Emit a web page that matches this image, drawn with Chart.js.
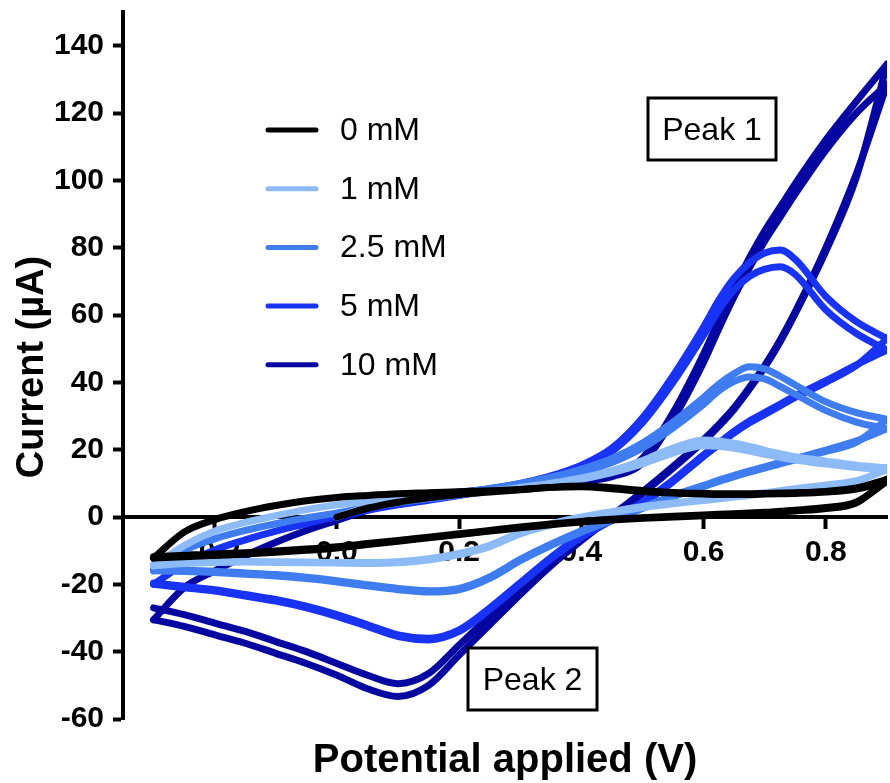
<!DOCTYPE html>
<html>
<head>
<meta charset="utf-8">
<script src="https://cdn.jsdelivr.net/npm/chart.js@4.4.0/dist/chart.umd.min.js"></script>
<style>
  html, body { margin: 0; padding: 0; background: #fff; }
  canvas { display: block; }
</style>
</head>
<body>
<canvas id="cv" width="890" height="783"></canvas>
<script>
// potential grid (V), finer around the oxidation peaks
const POTENTIAL = [-0.30, -0.25, -0.20, -0.15, -0.10, -0.05, 0.00, 0.05, 0.10, 0.15, 0.20, 0.25, 0.30,
  0.35, 0.40, 0.45, 0.50, 0.55, 0.60, 0.625, 0.65, 0.675, 0.70, 0.725, 0.75, 0.80, 0.85, 0.90];

const X_TICKS = [-0.2, 0.0, 0.2, 0.4, 0.6, 0.8];
const Y_TICKS = [-60, -40, -20, 0, 20, 40, 60, 80, 100, 120, 140];

const SERIES_NAMES = ['0 mM', '1 mM', '2.5 mM', '5 mM', '10 mM'];
const SERIES_COLORS = ['#000000', '#8dbbf7', '#3f7cf0', '#1833f4', '#0507a0'];

// current (uA). fwdA starts at 0.0 V (first sweep), the others span the whole grid
// 0 mM
const fwdA_0 = [0.0, 2.6, 4.4, 5.7, 6.7, 7.4, 8.1, 8.8, 9.2, 8.7, 7.9, 7.3, 7.0, 6.9, 6.9, 6.9, 7.0, 7.1, 7.2, 7.6, 8.6, 11.2];
const revA_0 = [-12.2, -11.8, -11.4, -11.0, -10.5, -9.9, -9.2, -8.2, -7.2, -6.2, -5.2, -4.2, -3.2, -2.3, -1.5, -0.9, -0.4, 0.0, 0.4, 0.6, 0.8, 1.0, 1.2, 1.5, 1.8, 2.5, 4.2, 11.2];
const fwdB_0 = [-12.2, -4.5, -0.8, 1.6, 3.4, 4.8, 5.8, 6.4, 6.9, 7.2, 7.5, 7.8, 8.2, 8.8, 9.0, 8.4, 7.6, 7.1, 6.8, 6.7, 6.7, 6.7, 6.8, 6.9, 7.0, 7.4, 8.3, 10.6];
const revB_0 = [-11.8, -11.4, -11.0, -10.6, -10.1, -9.5, -8.8, -7.9, -7.0, -6.0, -5.0, -4.0, -3.0, -2.1, -1.3, -0.7, -0.2, 0.2, 0.6, 0.8, 1.0, 1.2, 1.4, 1.7, 2.0, 2.8, 4.5, 10.6];
// 1 mM
const fwdA_1 = [0.0, 3.0, 4.6, 5.8, 6.8, 7.7, 8.8, 10.0, 11.6, 13.8, 16.8, 20.5, 22.9, 22.6, 21.9, 21.0, 19.8, 18.8, 17.9, 16.6, 15.4, 14.6];
const revA_1 = [-14.5, -13.8, -13.5, -13.4, -13.5, -13.6, -13.7, -13.8, -13.6, -12.8, -11.2, -8.8, -5.0, -2.4, -0.4, 1.2, 2.8, 3.9, 4.9, 5.4, 5.9, 6.4, 7.0, 7.6, 8.2, 9.3, 10.5, 14.6];
const fwdB_1 = [-14.5, -8.5, -4.2, -1.6, 0.4, 2.2, 3.6, 4.6, 5.4, 6.1, 6.8, 7.5, 8.5, 9.7, 11.2, 13.2, 15.8, 19.0, 21.2, 21.0, 20.4, 19.6, 18.6, 17.7, 16.9, 15.7, 14.7, 14.0];
const revB_1 = [-14.0, -13.5, -13.3, -13.2, -13.3, -13.4, -13.5, -13.5, -13.3, -12.4, -10.8, -8.4, -4.6, -2.0, 0.0, 1.6, 3.1, 4.2, 5.2, 5.7, 6.2, 6.7, 7.2, 7.8, 8.4, 9.5, 10.8, 14.0];
// 2.5 mM
const fwdA_2p5 = [0.0, 3.6, 5.2, 6.3, 7.3, 8.5, 10.0, 11.8, 14.2, 17.4, 22.0, 28.2, 35.5, 39.5, 42.6, 44.6, 44.0, 41.8, 39.2, 34.2, 31.0, 29.0];
const revA_2p5 = [-16.0, -16.2, -16.5, -17.0, -17.5, -18.3, -19.3, -20.5, -21.6, -22.3, -21.6, -18.2, -13.0, -8.5, -4.5, -1.0, 2.5, 6.0, 9.0, 10.6, 12.0, 13.3, 14.5, 15.8, 17.0, 19.5, 22.2, 29.0];
const fwdB_2p5 = [-16.0, -10.0, -6.5, -4.0, -2.0, -0.3, 1.2, 2.8, 4.2, 5.4, 6.5, 7.8, 9.2, 11.0, 13.2, 16.2, 20.5, 26.5, 33.5, 37.5, 40.3, 41.6, 41.0, 38.8, 36.4, 31.6, 28.2, 26.2];
const revB_2p5 = [-15.6, -15.8, -16.1, -16.6, -17.1, -17.9, -18.9, -20.1, -21.2, -21.9, -21.2, -17.8, -12.6, -8.1, -4.1, -0.6, 2.9, 6.4, 9.4, 11.0, 12.4, 13.7, 14.9, 16.2, 17.4, 19.9, 22.6, 26.2];
// 5 mM
const fwdA_5 = [0.0, 3.0, 4.6, 5.8, 7.0, 8.4, 10.0, 12.2, 15.4, 20.5, 29.5, 42.0, 56.5, 64.5, 71.0, 75.5, 78.4, 79.3, 76.5, 65.5, 58.0, 53.0];
const revA_5 = [-20.0, -21.0, -22.0, -23.5, -25.0, -27.0, -29.5, -32.5, -35.5, -36.5, -34.0, -27.5, -20.0, -12.5, -6.0, -1.0, 4.0, 10.5, 18.0, 21.5, 25.0, 28.0, 30.5, 33.0, 35.5, 40.0, 45.0, 53.0];
const fwdB_5 = [-20.0, -14.0, -9.8, -6.8, -4.2, -2.0, 0.2, 2.0, 3.6, 5.0, 6.4, 7.8, 9.4, 11.6, 14.8, 19.5, 28.0, 40.0, 54.0, 61.5, 67.5, 71.5, 73.6, 74.3, 72.0, 61.5, 54.5, 49.6];
const revB_5 = [-19.6, -20.6, -21.6, -23.0, -24.5, -26.5, -29.0, -32.0, -35.0, -36.0, -33.5, -27.0, -19.5, -12.0, -5.5, -0.5, 4.5, 11.0, 18.5, 22.0, 25.5, 28.5, 31.0, 33.5, 36.0, 40.5, 45.2, 49.6];
// 10 mM
const fwdA_10 = [0.0, 2.5, 4.3, 5.7, 6.9, 7.8, 8.8, 9.8, 10.8, 12.5, 17.5, 31.0, 48.5, 58.5, 68.0, 77.0, 85.0, 92.0, 99.0, 112.0, 123.5, 134.5];
const revA_10 = [-30.5, -32.5, -35.0, -37.5, -40.5, -43.5, -47.0, -51.0, -53.3, -50.0, -41.0, -32.0, -23.0, -14.5, -7.0, 0.0, 7.0, 14.5, 22.5, 27.0, 32.0, 38.0, 44.5, 52.0, 60.5, 79.0, 101.0, 134.5];
const fwdB_10 = [-30.5, -21.0, -16.0, -11.5, -7.5, -4.0, -1.0, 2.0, 4.5, 6.3, 7.4, 8.2, 9.0, 9.8, 10.6, 12.0, 16.0, 29.0, 46.0, 56.0, 65.5, 74.0, 82.0, 89.0, 96.0, 109.0, 120.0, 128.5];
const revB_10 = [-27.0, -29.0, -31.5, -34.0, -37.0, -40.0, -43.5, -47.0, -49.5, -46.5, -38.0, -29.5, -21.0, -13.0, -6.0, 0.5, 7.5, 15.0, 23.0, 27.5, 32.5, 38.5, 45.0, 52.5, 61.0, 80.0, 102.0, 128.5];

const SCANS = [
  [fwdA_0, revA_0, fwdB_0, revB_0],
  [fwdA_1, revA_1, fwdB_1, revB_1],
  [fwdA_2p5, revA_2p5, fwdB_2p5, revB_2p5],
  [fwdA_5, revA_5, fwdB_5, revB_5],
  [fwdA_10, revA_10, fwdB_10, revB_10]
];

const FONT = '"Liberation Sans", Arial, Helvetica, sans-serif';

function toPoints(values) {
    // short arrays start later on the potential grid
    const offset = POTENTIAL.length - values.length;
    return values.map((v, i) => ({ x: POTENTIAL[offset + i], y: v }));
}

// first dataset is drawn on top, so black ends up above the blues
const datasets = [];
SCANS.forEach((scans, s) => {
    scans.forEach((values) => {
        datasets.push({
            label: SERIES_NAMES[s],
            data: toPoints(values),
            borderColor: SERIES_COLORS[s],
            borderWidth: 7,
            borderCapStyle: 'round',
            borderJoinStyle: 'round',
            pointRadius: 0,
            fill: false,
            cubicInterpolationMode: 'monotone'
        });
    });
});

function drawBoxLabel(ctx, text, x, y, w, h, size) {
    ctx.fillStyle = '#fff';
    ctx.fillRect(x, y, w, h);
    ctx.strokeStyle = '#000';
    ctx.lineWidth = 3;
    ctx.strokeRect(x, y, w, h);
    ctx.fillStyle = '#000';
    ctx.font = size + 'px ' + FONT;
    ctx.textAlign = 'center';
    ctx.textBaseline = 'middle';
    ctx.fillText(text, x + w / 2, y + h / 2 + 2);
}

function drawTitle(ctx, text, x, y, angle, size) {
    ctx.save();
    ctx.translate(x, y);
    ctx.rotate(angle);
    ctx.font = 'bold ' + size + 'px ' + FONT;
    ctx.fillStyle = '#000';
    ctx.textAlign = 'center';
    ctx.textBaseline = 'alphabetic';
    ctx.fillText(text, 0, 0);
    ctx.restore();
}

const decorations = {
    id: 'decorations',
    afterDraw(chart) {
        const ctx = chart.ctx;
        ctx.save();

        // legend
        SERIES_NAMES.forEach((name, i) => {
            const y = 130 + i * 58.7;
            ctx.strokeStyle = SERIES_COLORS[i];
            ctx.lineWidth = 5;
            ctx.lineCap = 'round';
            ctx.beginPath();
            ctx.moveTo(268, y);
            ctx.lineTo(316, y);
            ctx.stroke();
            ctx.fillStyle = '#000';
            ctx.font = '32px ' + FONT;
            ctx.textAlign = 'left';
            ctx.textBaseline = 'middle';
            ctx.fillText(name, 340, y + 1);
        });

        drawBoxLabel(ctx, 'Peak 1', 648, 98, 128, 62, 32);
        drawBoxLabel(ctx, 'Peak 2', 468, 648, 129, 62, 32);

        // axis titles
        drawTitle(ctx, 'Potential applied (V)', 505, 772, 0, 40);
        drawTitle(ctx, 'Current (\u00b5A)', 43, 367, -Math.PI / 2, 38);

        ctx.restore();
    }
};

const tickFont = { family: FONT, size: 30, weight: 'bold' };

new Chart(document.getElementById('cv'), {
    type: 'line',
    data: { datasets: datasets },
    options: {
        responsive: false,
        animation: false,
        events: [],
        layout: { padding: { left: 0, right: 3, top: 12, bottom: 64 } },
        scales: {
            x: {
                type: 'linear',
                min: -0.35,
                max: 0.9,
                position: { y: 0 },
                afterBuildTicks: (s) => { s.ticks = X_TICKS.map(v => ({ value: v })); },
                afterFit: (s) => { s.paddingLeft = 0; s.paddingRight = 0; },
                ticks: {
                    color: '#000',
                    font: tickFont,
                    padding: 8,
                    maxRotation: 0,
                    autoSkip: false,
                    callback: (v) => Number(v).toFixed(1)
                },
                grid: { drawOnChartArea: false, drawTicks: true, tickLength: 10, tickWidth: 4, tickColor: '#000' },
                border: { display: true, color: '#000', width: 4 }
            },
            y: {
                type: 'linear',
                min: -60,
                max: 150,
                position: 'left',
                afterBuildTicks: (s) => { s.ticks = Y_TICKS.map(v => ({ value: v })); },
                afterFit: (s) => { s.width = 123; s.paddingTop = 0; s.paddingBottom = 0; },
                ticks: { color: '#000', font: tickFont, padding: 9 },
                grid: { drawOnChartArea: false, drawTicks: true, tickLength: 10, tickWidth: 4, tickColor: '#000' },
                border: { display: true, color: '#000', width: 4 }
            }
        },
        plugins: {
            legend: { display: false },
            tooltip: { enabled: false }
        }
    },
    plugins: [decorations]
});
</script>
</body>
</html>
